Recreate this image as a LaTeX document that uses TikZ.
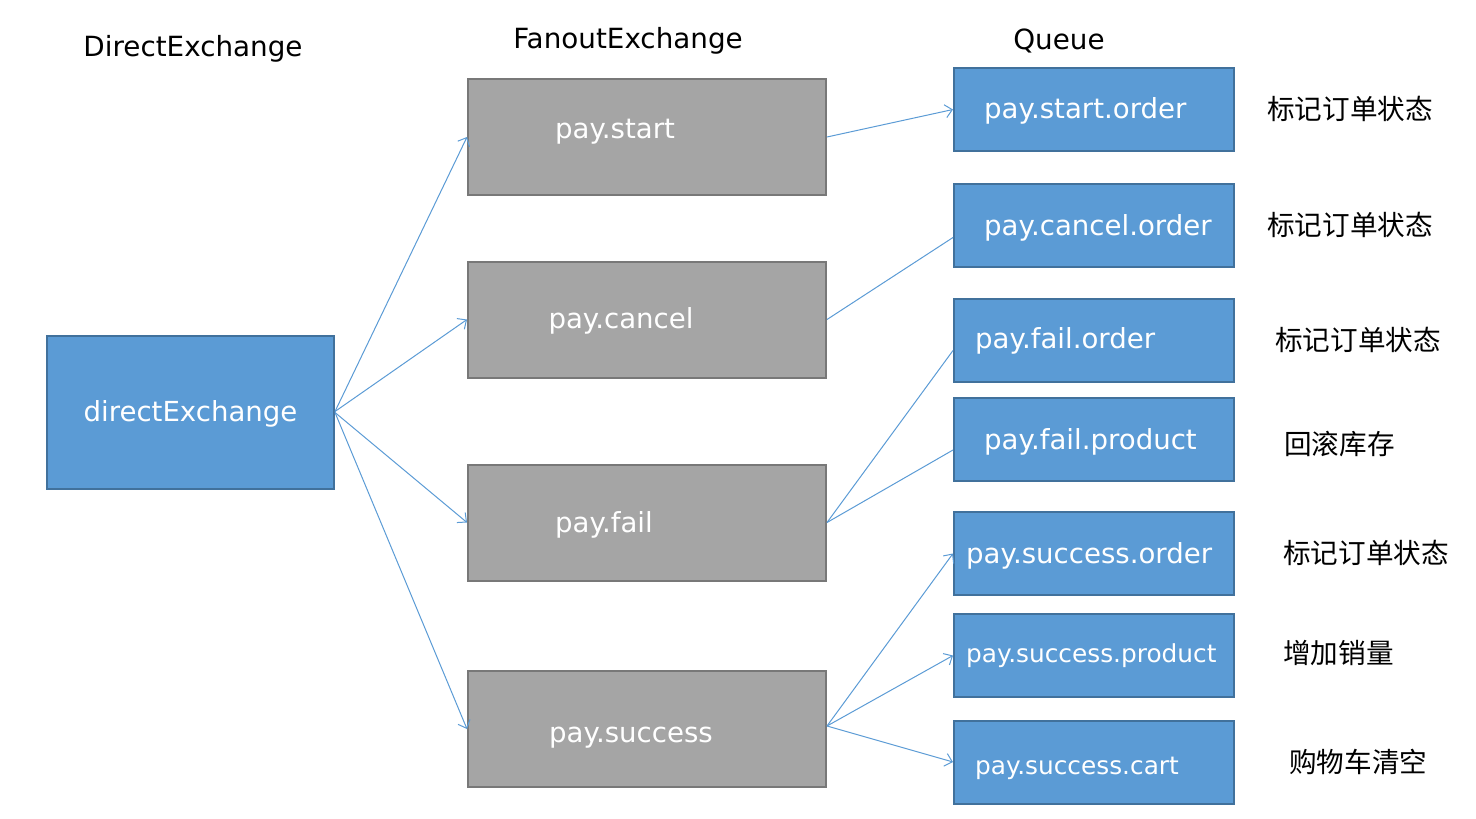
\documentclass[tikz,border=0pt]{standalone}
\usepackage{fontspec}
\setmainfont{DejaVu Sans}
\newfontfamily\cjk{Noto Sans CJK SC}
\usetikzlibrary{arrows.meta}
\definecolor{bfill}{HTML}{5B9BD5}
\definecolor{bdraw}{HTML}{41719C}
\definecolor{gfill}{HTML}{A5A5A5}
\definecolor{gdraw}{HTML}{787878}
\definecolor{link}{HTML}{5B9BD5}
\begin{document}
\begin{tikzpicture}[x=1pt,y=-1pt,
  bbox/.style={draw=bdraw,fill=bfill,line width=2pt,inner sep=0pt,minimum width=280pt,minimum height=83pt},
  dbox/.style={draw=bdraw,fill=bfill,line width=2pt,inner sep=0pt,minimum width=287pt,minimum height=153pt},
  gbox/.style={draw=gdraw,fill=gfill,line width=2pt,inner sep=0pt,minimum width=358pt,minimum height=116pt},
  wtxt/.style={text=white,inner sep=0pt,font=\fontsize{27.6}{31}\selectfont},
  wsml/.style={text=white,inner sep=0pt,font=\fontsize{24.8}{28}\selectfont},
  title/.style={text=black,inner sep=0pt,font=\fontsize{27.8}{31}\selectfont},
  ctxt/.style={text=black,inner sep=0pt,anchor=west,font=\cjk\fontsize{27.6}{31}\selectfont},
  conn/.style={draw=link,line width=1pt},
  arr/.style={conn,-{Straight Barb[length=7pt,width=13pt]}}]
\useasboundingbox (0,0) rectangle (1476,819);
% titles
\node[title] (t1) at (193,48.5) {DirectExchange};
\node[title] (t2) at (628,40.5) {FanoutExchange};
\node[title] (t3) at (1059,40.5) {Queue};
% direct exchange
\node[dbox] (de) at (190.5,412.5) {};
\node[wtxt] (detx) at (190.5,413.5) {directExchange};
% fanout
\node[gbox] (ps) at (647,137) {};
\node[wtxt] (pstx) at (615,131.5) {pay.start};
\node[gbox] (pc) at (647,319.5) {};
\node[wtxt] (pctx) at (621,320.5) {pay.cancel};
\node[gbox] (pf) at (647,522.5) {};
\node[wtxt] (pftx) at (604,524.5) {pay.fail};
\node[gbox] (pu) at (647,729) {};
\node[wtxt] (putx) at (631,737.5) {pay.success};
% queues
\node[bbox] (q1) at (1094,109.5) {};
\node[wtxt,anchor=west] (q1tx) at (984,110.5) {pay.start.order};
\node[bbox] (q2) at (1094,225.5) {};
\node[wtxt,anchor=west] (q2tx) at (984,227.5) {pay.cancel.order};
\node[bbox] (q3) at (1094,340.5) {};
\node[wtxt,anchor=west] (q3tx) at (975,340.5) {pay.fail.order};
\node[bbox] (q4) at (1094,439) {};
\node[wtxt,anchor=west] (q4tx) at (984,441.5) {pay.fail.product};
\node[bbox] (q5) at (1094,553.5) {};
\node[wtxt,anchor=west] (q5tx) at (966,555.5) {pay.success.order};
\node[bbox] (q6) at (1094,655.5) {};
\node[wsml,anchor=west] (q6tx) at (966,655.5) {pay.success.product};
\node[bbox] (q7) at (1094,762) {};
\node[wsml,anchor=west] (q7tx) at (975,768.5) {pay.success.cart};
% chinese labels
\node[ctxt] (c1) at (1267,109) {标记订单状态};
\node[ctxt] (c2) at (1267,225) {标记订单状态};
\node[ctxt] (c3) at (1275,340) {标记订单状态};
\node[ctxt] (c4) at (1284,444) {回滚库存};
\node[ctxt] (c5) at (1283,553) {标记订单状态};
\node[ctxt] (c6) at (1283,653) {增加销量};
\node[ctxt] (c7) at (1289,762) {购物车清空};
% connectors
\draw[arr] ([yshift=1pt]de.east) -- (ps.west);
\draw[arr] ([yshift=1pt]de.east) -- (pc.west);
\draw[arr] (de.east) -- (pf.west);
\draw[arr] (de.east) -- (pu.west);
\draw[arr] (ps.east) -- (q1.west);
\draw[conn] (pc.east) -- ([yshift=-12pt]q2.west);
\draw[conn] (pf.east) -- ([yshift=-10pt]q3.west);
\draw[conn] (pf.east) -- ([yshift=-11pt]q4.west);
\draw[arr] ([yshift=3pt]pu.east) -- (q5.west);
\draw[arr] ([yshift=3pt]pu.east) -- (q6.west);
\draw[arr] ([yshift=3pt]pu.east) -- (q7.west);
\end{tikzpicture}
\end{document}
